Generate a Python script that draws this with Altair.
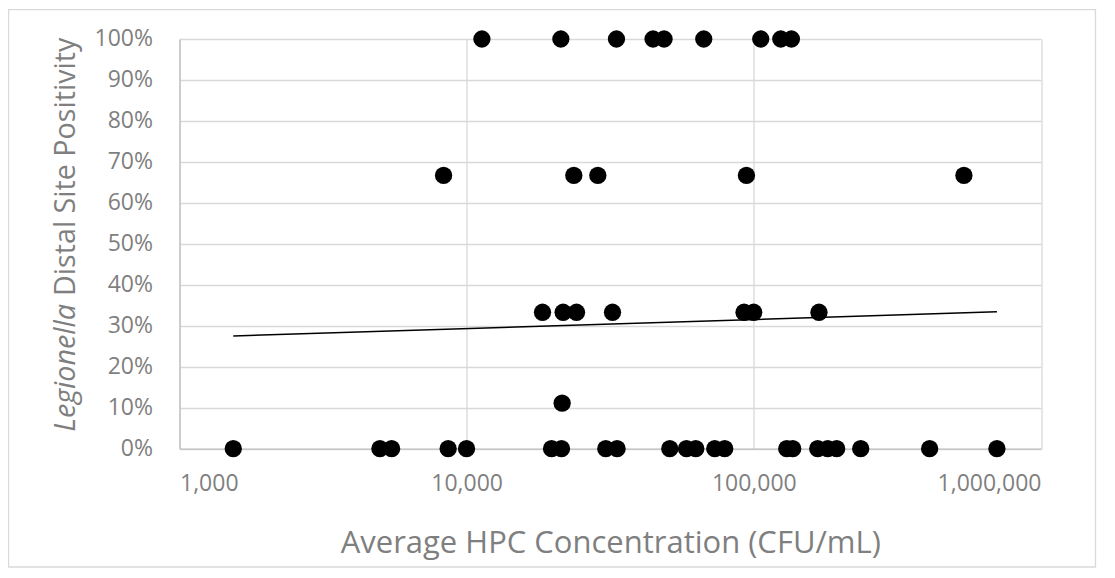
import altair as alt
import pandas as pd

# Average HPC concentration (CFU/mL) grouped by Legionella distal-site positivity
hpc_100 = [11300, 21280, 33240, 44570, 48690, 66930, 105700, 124100, 135200]
hpc_67 = [8310, 23610, 28620, 94250, 539000]
hpc_33 = [18370, 21670, 24130, 32200, 92450, 99900, 168600]
hpc_11 = [21500]
hpc_0 = [1539, 4988, 5478, 8620, 9990, 19750, 21390, 30510, 33400, 50970,
         58270, 62780, 73110, 79180, 130200, 136600, 166900, 180800, 194300,
         235600, 409500, 702300]

groups = [(1.0, hpc_100), (0.667, hpc_67), (0.333, hpc_33), (0.111, hpc_11), (0.0, hpc_0)]

# Trendline endpoints
trend_x = [1539, 702300]
trend_y = [0.275, 0.334]

x_ticks = [1000, 10000, 100000, 1000000]
y_ticks = [0, 0.1, 0.2, 0.3, 0.4, 0.5, 0.6, 0.7, 0.8, 0.9, 1.0]

rows = []
for pos, xs in groups:
    for v in xs:
        rows.append({"hpc": v, "pos": pos})
df = pd.DataFrame(rows)
trend_df = pd.DataFrame({"hpc": trend_x, "pos": trend_y})

FONT = "Open Sans"
GRAY = "#7f7f7f"
GRID = "#d9d9d9"

x_enc = alt.X(
    "hpc:Q",
    scale=alt.Scale(type="log", domain=[1000, 1000000]),
    axis=alt.Axis(
        values=x_ticks, format=",", title="Average HPC Concentration (CFU/mL)",
        grid=True, gridColor=GRID, gridWidth=1.3, ticks=False,
        domainColor="#bfbfbf", domainWidth=1.3,
        labelFont=FONT, labelFontSize=23, labelColor=GRAY, labelPadding=24,
        titleFont=FONT, titleFontSize=31, titleColor=GRAY, titleFontWeight="normal",
        titleBaseline="alphabetic", titleY=104,
    ),
)
y_enc = alt.Y(
    "pos:Q",
    scale=alt.Scale(domain=[0, 1]),
    axis=alt.Axis(
        values=y_ticks, format=".0%", title=None,
        grid=True, gridColor=GRID, gridWidth=1.3, ticks=False,
        domainColor="#bfbfbf", domainWidth=1.3,
        labelFont=FONT, labelFontSize=23, labelColor=GRAY, labelPadding=27,
    ),
)

points = alt.Chart(df).mark_circle(size=300, color="black", opacity=1).encode(x=x_enc, y=y_enc)

trend = alt.Chart(trend_df).mark_line(color="black", strokeWidth=1.5).encode(
    x="hpc:Q", y="pos:Q"
)

t1 = alt.Chart(pd.DataFrame({"t": ["Legionella"]})).mark_text(
    angle=270, align="right", baseline="middle", font=FONT, fontSize=28.7,
    fontStyle="italic", color=GRAY,
).encode(x=alt.value(-113.5), y=alt.value(265), text="t:N")

t2 = alt.Chart(pd.DataFrame({"t": ["Distal Site Positivity"]})).mark_text(
    angle=270, align="left", baseline="middle", font=FONT, fontSize=28.7,
    color=GRAY,
).encode(x=alt.value(-113.5), y=alt.value(257), text="t:N")

frame = alt.Chart(pd.DataFrame({"a": [0]})).mark_rect(
    filled=False, stroke=GRID, strokeWidth=1.3
).encode(x=alt.value(-171), x2=alt.value(916), y=alt.value(-29.3), y2=alt.value(528))

chart = alt.layer(frame, points, trend, t1, t2).properties(
    width=861.5, height=409.7,
    padding={"left": 171.5, "top": 31, "right": 62, "bottom": 120},
    autosize=alt.AutoSizeParams(type="none"),
).configure_view(stroke=None)

chart.save("out.html", embed_options={"renderer": "svg", "actions": False})
